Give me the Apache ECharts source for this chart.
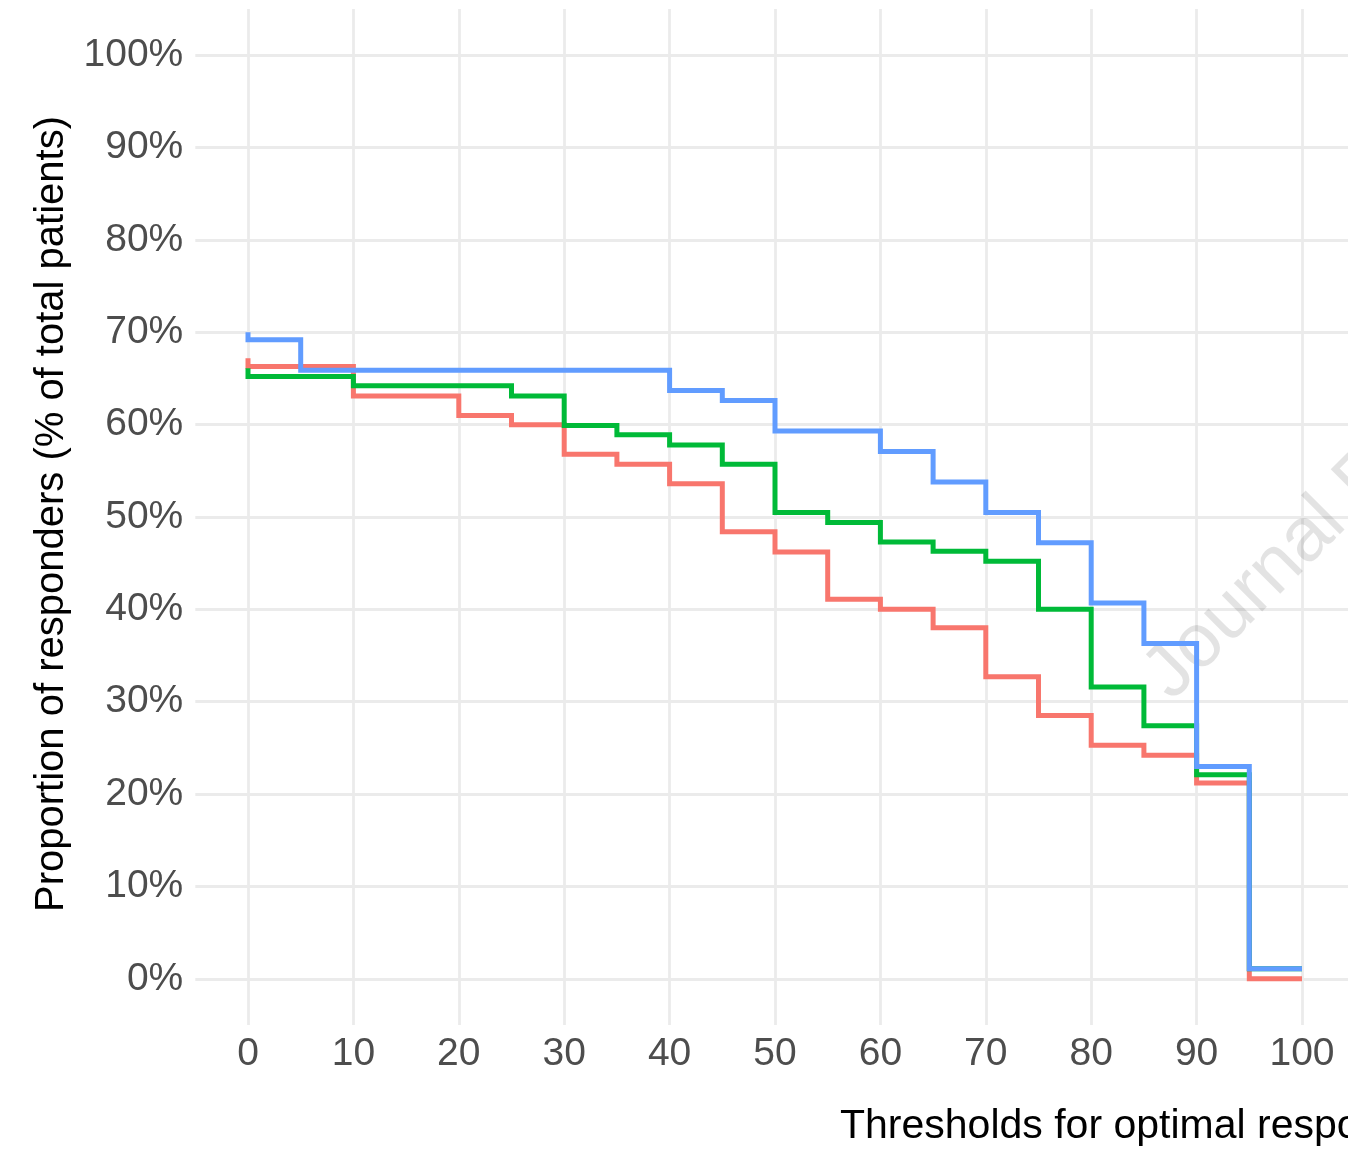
<!DOCTYPE html>
<html>
<head>
<meta charset="utf-8">
<title>Proportion of responders by threshold</title>
<script src="https://cdn.jsdelivr.net/npm/echarts@6/dist/echarts.min.js"></script>
<style>
  html, body { margin: 0; padding: 0; background: #ffffff; }
  #chart { width: 1348px; height: 1149px; }
</style>
</head>
<body>
<div id="chart"></div>
<script>
// Threshold for optimal response (%); the first threshold appears twice
// because each curve opens with a short drop at 0.
const thresholds = [0, 0, 5, 10, 15, 20, 25, 30, 35, 40, 45, 50, 55, 60, 65, 70, 75, 80, 85, 90, 95, 100];

// Proportion of responders (% of total patients) per threshold, one array per group.
const redValues   = [67.2, 66.3, 66.3, 63.1, 63.1, 61.0, 60.0, 56.8, 55.7, 53.6, 48.4, 46.2, 41.1, 40.0, 38.0, 32.7, 28.5, 25.3, 24.2, 21.2, 0.0, 0.0];
const greenValues = [66.1, 65.2, 65.2, 64.2, 64.2, 64.2, 63.1, 59.9, 58.9, 57.8, 55.7, 50.5, 49.4, 47.3, 46.3, 45.2, 40.0, 31.6, 27.4, 22.1, 1.1, 1.1];
const blueValues  = [70.0, 69.2, 65.9, 65.9, 65.9, 65.9, 65.9, 65.9, 65.9, 63.7, 62.6, 59.3, 59.3, 57.1, 53.8, 50.5, 47.2, 40.7, 36.3, 23.0, 1.1, 1.1];

// Tick positions on both axes
const xTicks = [0, 10, 20, 30, 40, 50, 60, 70, 80, 90, 100];
const yTicks = [0, 10, 20, 30, 40, 50, 60, 70, 80, 90, 100];

const seriesColors = ['#F8766D', '#00BA38', '#619CFF'];
const groups = [redValues, greenValues, blueValues];

const FONT = 'Liberation Sans, Arial, Helvetica, sans-serif';
const gridColor = '#EBEBEB';

const chart = echarts.init(document.getElementById('chart'), null, { renderer: 'canvas' });

const pairs = vals => thresholds.map((x, i) => [x, vals[i]]);

const option = {
  backgroundColor: '#ffffff',
  animation: false,
  // the panel runs past the right edge of the canvas, so the x range is cut at 104.36
  grid: { left: 195.3, top: 9, right: 0, height: 1016, containLabel: false },
  xAxis: {
    type: 'value',
    min: -5,
    max: 104.364,
    axisLine: { show: false },
    axisTick: { show: false, customValues: xTicks },
    axisLabel: {
      customValues: xTicks,
      color: '#4D4D4D',
      fontFamily: FONT,
      fontSize: 39,
      margin: 10
    },
    splitLine: { show: true, lineStyle: { color: gridColor, width: 2.8 } }
  },
  yAxis: {
    type: 'value',
    min: -5,
    max: 105,
    axisLine: { show: false },
    axisTick: { show: false, customValues: yTicks },
    axisLabel: {
      customValues: yTicks,
      formatter: '{value}%',
      color: '#4D4D4D',
      fontFamily: FONT,
      fontSize: 39,
      margin: 12
    },
    splitLine: { show: true, lineStyle: { color: gridColor, width: 2.8 } }
  },
  graphic: [
    {
      type: 'text',
      z: 1,
      x: 1184,
      y: 714,
      rotation: Math.PI / 4,
      style: {
        text: 'Journal Pre-proof',
        font: '76px ' + FONT,
        fill: 'rgba(0,0,0,0.11)',
        align: 'left',
        verticalAlign: 'bottom'
      }
    },
    {
      type: 'text',
      x: 840,
      y: 1127,
      style: {
        text: 'Thresholds for optimal response (%)',
        font: '41px ' + FONT,
        fill: '#000000',
        align: 'left',
        verticalAlign: 'middle'
      }
    },
    {
      type: 'text',
      x: 52,
      y: 514,
      rotation: Math.PI / 2,
      style: {
        text: 'Proportion of responders (% of total patients)',
        font: '40px ' + FONT,
        fill: '#000000',
        align: 'center',
        verticalAlign: 'middle'
      }
    }
  ],
  series: groups.map((vals, i) => ({
    type: 'line',
    step: 'end',
    data: pairs(vals),
    showSymbol: false,
    symbol: 'none',
    z: 3 + i,
    lineStyle: { color: seriesColors[i], width: 5, cap: 'butt', join: 'miter' },
    emphasis: { disabled: true }
  }))
};

chart.setOption(option);
</script>
</body>
</html>
